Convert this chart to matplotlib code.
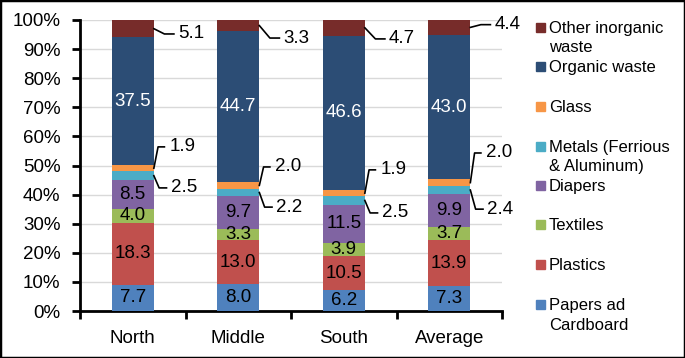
#! /usr/bin/env python3
import numpy as np
import matplotlib
matplotlib.use("Agg")
import matplotlib.pyplot as plt
from matplotlib.patches import Rectangle

plt.rcParams["font.family"] = ["Liberation Sans", "DejaVu Sans"]

regions = ["North", "Middle", "South", "Average"]
series = ["Papers ad\nCardboard", "Plastics", "Textiles", "Diapers",
          "Metals (Ferrious\n& Aluminum)", "Glass", "Organic waste",
          "Other inorganic\nwaste"]
papers = [7.7, 8.0, 6.2, 7.3]
plastics = [18.3, 13.0, 10.5, 13.9]
textiles = [4.0, 3.3, 3.9, 3.7]
diapers = [8.5, 9.7, 11.5, 9.9]
metals = [2.5, 2.2, 2.5, 2.4]
glass = [1.9, 2.0, 1.9, 2.0]
organic = [37.5, 44.7, 46.6, 43.0]
other = [5.1, 3.3, 4.7, 4.4]

colors = ["#4F81BD", "#C0504D", "#9BBB59", "#8064A2",
          "#4BACC6", "#F79646", "#2C4D75", "#772C2A"]
text_colors = ["black"] * 6 + ["white", "black"]

# y position (in %) of the labels that sit outside the bars
outside_y = {4: [42.3, 35.7, 33.7, 35.0],
             5: [56.4, 49.5, 48.5, 54.3],
             7: [95.2, 93.8, 93.5, 98.4]}
# (elbow, line end, text start) offsets from the bar edge, in data units
outside_dx = {4: (0.05, 0.12, 0.16),
              5: (0.04, 0.10, 0.15),
              7: (0.10, 0.19, 0.23)}


def main():
    data = np.array([papers, plastics, textiles, diapers,
                     metals, glass, organic, other])
    share = data / data.sum(axis=0) * 100
    x = np.arange(len(regions))
    width = 0.4

    fig = plt.figure(figsize=(6.85, 3.58), dpi=100)
    ax = fig.add_axes([80 / 685, 1 - 311 / 358, 422 / 685, 291 / 358])

    bottom = np.zeros(len(regions))
    for i in range(len(series)):
        ax.bar(x, share[i], width, bottom=bottom, color=colors[i],
               linewidth=0, zorder=3)
        for j in range(len(regions)):
            mid = bottom[j] + share[i][j] / 2
            label = "{0:.1f}".format(data[i][j])
            if i in outside_y:
                ly = outside_y[i][j]
                e, l, t = outside_dx[i]
                edge = x[j] + width / 2
                ax.plot([edge, edge + e, edge + l], [mid, ly, ly],
                        color="black", lw=1.2, zorder=4, clip_on=False)
                ax.text(edge + t, ly, label, ha="left", va="center",
                        fontsize=13.5, color="black")
            else:
                ax.text(x[j], mid, label, ha="center", va="center",
                        fontsize=13.5, color=text_colors[i], zorder=5)
        bottom += share[i]

    ax.set_xlim(-0.5, 3.5)
    ax.set_ylim(0, 100)
    ax.set_yticks(np.arange(0, 101, 10))
    ax.set_yticklabels(["{0:d}%".format(v) for v in range(0, 101, 10)])
    ax.yaxis.grid(True, color="#D9D9D9", lw=1, zorder=0)
    ax.set_xticks(x)
    ax.set_xticklabels(regions)
    ax.set_xticks(np.arange(-0.5, 3.6, 1), minor=True)
    ax.tick_params(axis="x", which="major", length=0, pad=14, labelsize=13.5)
    ax.tick_params(axis="x", which="minor", length=6, width=2, direction="out")
    ax.tick_params(axis="y", length=6, width=2, pad=8, labelsize=13.5)
    for s in ["top", "right"]:
        ax.spines[s].set_visible(False)
    for s in ["left", "bottom"]:
        ax.spines[s].set_linewidth(2)

    # legend drawn by hand, top entry first, one text per line
    rows = [27, 66, 106, 146, 185, 224, 264, 304]
    for k, i in enumerate(range(len(series) - 1, -1, -1)):
        yc = 1 - rows[k] / 358
        fig.patches.append(Rectangle((536 / 685, yc - 4.5 / 358), 9 / 685,
                                     9 / 358, transform=fig.transFigure,
                                     color=colors[i]))
        for n, line in enumerate(series[i].split("\n")):
            fig.text(549 / 685, yc - (6 + 19.5 * n) / 358, line,
                     fontsize=12, ha="left", va="baseline")

    fig.patches.append(Rectangle((0, 0), 1, 1, transform=fig.transFigure,
                                 fill=False, ec="black", lw=2.5))
    fig.savefig("out.png", dpi=100)


if __name__ == "__main__":
    main()
